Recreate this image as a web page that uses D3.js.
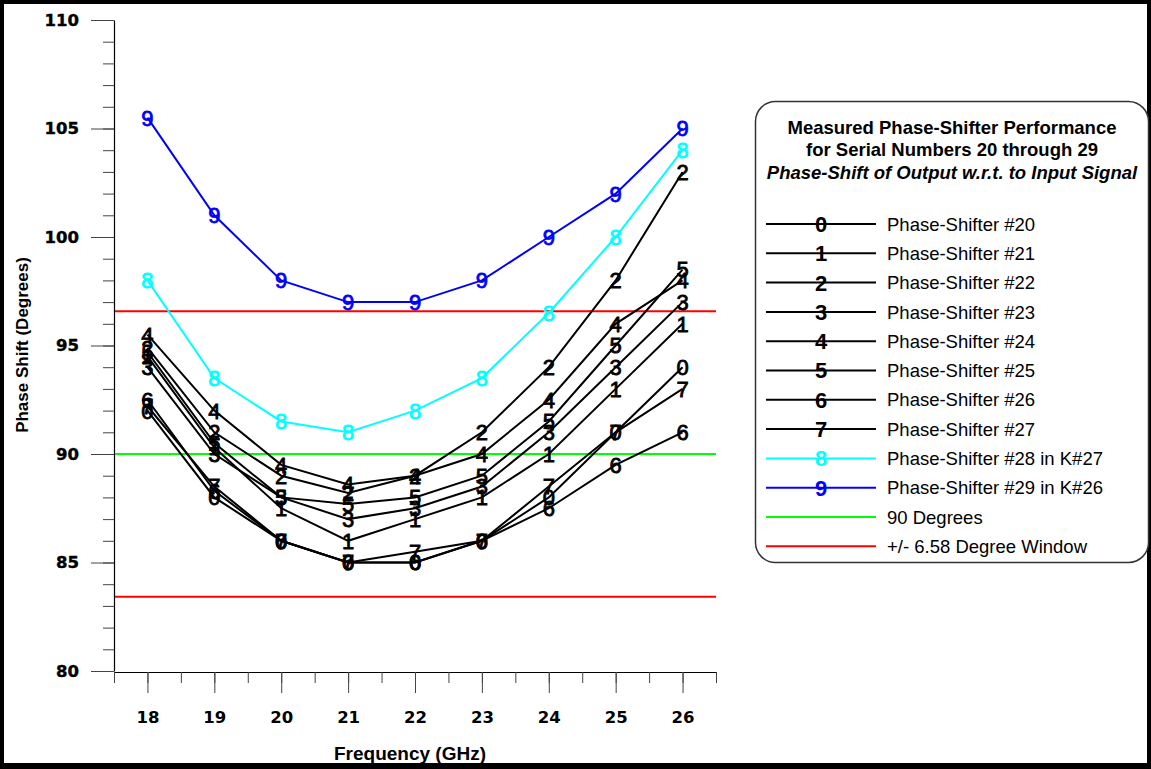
<!DOCTYPE html>
<html>
<head>
<meta charset="utf-8">
<script src="https://cdn.jsdelivr.net/npm/d3@7"></script>
<style>
  body { margin: 0; background: #fff; }
  svg { display: block; }
</style>
</head>
<body>
<svg id="chart" width="1151" height="769"></svg>
<script>
// ---- data ----
const frequencies = [18, 19, 20, 21, 22, 23, 24, 25, 26];
const ps20 = [92.0, 88.0, 86.0, 85.0, 85.0, 86.0, 88.0, 91.0, 94.0];
const ps21 = [94.5, 90.3, 87.5, 86.0, 87.0, 88.0, 90.0, 93.0, 96.0];
const ps22 = [94.9, 91.0, 89.0, 88.2, 89.0, 91.0, 94.0, 98.0, 103.0];
const ps23 = [94.0, 90.0, 88.0, 87.0, 87.5, 88.5, 91.0, 94.0, 97.0];
const ps24 = [95.5, 92.0, 89.5, 88.6, 89.0, 90.0, 92.5, 96.0, 98.0];
const ps25 = [94.7, 90.5, 88.0, 87.7, 88.0, 89.0, 91.5, 95.0, 98.5];
const ps26 = [92.5, 88.3, 86.0, 85.0, 85.0, 86.0, 87.5, 89.5, 91.0];
const ps27 = [92.2, 88.5, 86.0, 85.0, 85.5, 86.0, 88.5, 91.0, 93.0];
const ps28 = [98.0, 93.5, 91.5, 91.0, 92.0, 93.5, 96.5, 100.0, 104.0];
const ps29 = [105.5, 101.0, 98.0, 97.0, 97.0, 98.0, 100.0, 102.0, 105.0];
const seriesMarkers = ["0", "1", "2", "3", "4", "5", "6", "7", "8", "9"];
const seriesNames = ["Phase-Shifter #20", "Phase-Shifter #21", "Phase-Shifter #22", "Phase-Shifter #23",
  "Phase-Shifter #24", "Phase-Shifter #25", "Phase-Shifter #26", "Phase-Shifter #27",
  "Phase-Shifter #28 in K#27", "Phase-Shifter #29 in K#26"];
const seriesColors = ["#000", "#000", "#000", "#000", "#000", "#000", "#000", "#000", "#00ffff", "#0000ff"];
const referenceValues = [90, 96.58, 83.42];
const referenceColors = ["#00ff00", "#ff0000", "#ff0000"];
const referenceNames = ["90 Degrees", "+/- 6.58 Degree Window"];
const yMajorTicks = [80, 85, 90, 95, 100, 105, 110];
const titleLines = ["Measured Phase-Shifter Performance", "for Serial Numbers 20 through 29",
  "Phase-Shift of Output w.r.t. to Input Signal"];
const xTitle = "Frequency (GHz)";
const yTitle = "Phase Shift (Degrees)";

const allSeries = [ps20, ps21, ps22, ps23, ps24, ps25, ps26, ps27, ps28, ps29];

// ---- drawing ----
const svg = d3.select("#chart");
svg.append("rect").attr("x", 0).attr("y", 0).attr("width", 1151).attr("height", 769).attr("fill", "#000");
svg.append("rect").attr("x", 4).attr("y", 4).attr("width", 1143).attr("height", 759).attr("fill", "#fff");

const x = d3.scaleLinear().domain([17.5, 26.5]).range([114, 716]);
const y = d3.scaleLinear().domain([80, 110]).range([671, 20]);

const tickFont = "'DejaVu Sans', sans-serif";

// y axis minor
const yMinor = d3.range(80, 111, 1);
svg.append("g").attr("transform", "translate(114,0)")
  .call(d3.axisLeft(y).tickValues(yMinor).tickSize(11).tickSizeOuter(0).tickFormat(""))
  .call(g => g.selectAll(".tick line").attr("stroke", "#444"))
  .call(g => g.select(".domain").attr("stroke", "#000").attr("stroke-width", 1.2));
svg.append("g").attr("transform", "translate(114,0)")
  .call(d3.axisLeft(y).tickValues(yMajorTicks).tickSize(23).tickPadding(12).tickSizeOuter(0).tickFormat(d3.format("d")))
  .call(g => g.select(".domain").remove())
  .call(g => g.selectAll(".tick line").attr("stroke", "#444"))
  .call(g => g.selectAll(".tick text").attr("font-family", tickFont).attr("font-weight", "bold")
    .attr("font-size", 16.5).attr("fill", "#000").attr("stroke", "#000").attr("stroke-width", 0.4));

// x axis
const xMinor = d3.range(17.5, 26.51, 0.5);
svg.append("g").attr("transform", "translate(0,672)")
  .call(d3.axisBottom(x).tickValues(xMinor).tickSize(11).tickSizeOuter(0).tickFormat(""))
  .call(g => g.selectAll(".tick line").attr("stroke", "#444"))
  .call(g => g.select(".domain").attr("stroke", "#000").attr("stroke-width", 1.2));
svg.append("g").attr("transform", "translate(0,672)")
  .call(d3.axisBottom(x).tickValues(frequencies).tickSize(21).tickSizeOuter(0).tickFormat(d3.format("d")))
  .call(g => g.select(".domain").remove())
  .call(g => g.selectAll(".tick line").attr("stroke", "#444"))
  .call(g => g.selectAll(".tick text").attr("font-family", tickFont).attr("font-weight", "bold")
    .attr("font-size", 16.5).attr("fill", "#000").attr("y", 45).attr("dy", "0.36em"));

// axis titles
svg.append("text").attr("x", 410).attr("y", 753).attr("dy", "0.36em").attr("text-anchor", "middle")
  .attr("font-family", "'Liberation Sans', Arial, sans-serif").attr("font-weight", "bold").attr("font-size", 19)
  .text(xTitle);
svg.append("text").attr("transform", "translate(22,345) rotate(-90)").attr("dy", "0.36em").attr("text-anchor", "middle")
  .attr("font-family", "'Liberation Sans', Arial, sans-serif").attr("font-weight", "bold").attr("font-size", 17)
  .text(yTitle);

// reference lines
referenceValues.forEach((v, i) => {
  svg.append("line").attr("x1", 115).attr("x2", 716).attr("y1", y(v)).attr("y2", y(v))
    .attr("stroke", referenceColors[i]).attr("stroke-width", 2);
});

// series
const line = d3.line().x((d, i) => x(frequencies[i])).y(d => y(d));
const markerFont = "'Liberation Sans', Arial, sans-serif";
allSeries.forEach((vals, s) => {
  const g = svg.append("g");
  g.append("path").datum(vals).attr("d", line).attr("fill", "none")
    .attr("stroke", seriesColors[s]).attr("stroke-width", 2);
  g.selectAll("text").data(vals).join("text")
    .attr("x", (d, i) => x(frequencies[i])).attr("y", d => y(d)).attr("dy", "0.36em")
    .attr("text-anchor", "middle").attr("font-family", markerFont).attr("font-size", 22)
    .attr("fill", seriesColors[s]).attr("stroke", seriesColors[s]).attr("stroke-width", 0.8)
    .text(seriesMarkers[s]);
});

// legend
svg.append("rect").attr("x", 755.5).attr("y", 101.5).attr("width", 393).attr("height", 461).attr("rx", 20)
  .attr("fill", "#fff").attr("stroke", "#333").attr("stroke-width", 1.5);
const legendFont = "'Liberation Sans', Arial, sans-serif";
titleLines.forEach((t, i) => {
  svg.append("text").attr("x", 952).attr("y", 127 + i * 22.5).attr("dy", "0.36em").attr("text-anchor", "middle")
    .attr("font-family", legendFont).attr("font-weight", "bold").attr("font-size", 18.5)
    .attr("font-style", i === 2 ? "italic" : "normal").text(t);
});
const legendRows = seriesNames.map((n, i) => ({ name: n, color: seriesColors[i], marker: seriesMarkers[i] }))
  .concat(referenceNames.map((n, i) => ({ name: n, color: referenceColors[i], marker: "" })));
legendRows.forEach((r, i) => {
  const ry = 224 + i * 29.3;
  svg.append("line").attr("x1", 766).attr("x2", 876).attr("y1", ry).attr("y2", ry)
    .attr("stroke", r.color).attr("stroke-width", 2);
  if (r.marker) {
    svg.append("text").attr("x", 821).attr("y", ry).attr("dy", "0.36em").attr("text-anchor", "middle")
      .attr("font-family", markerFont).attr("font-size", 22).attr("font-weight", "bold")
      .attr("fill", r.color).text(r.marker);
  }
  svg.append("text").attr("x", 887).attr("y", ry).attr("dy", "0.36em")
    .attr("font-family", legendFont).attr("font-size", 18.5).attr("fill", "#000").text(r.name);
});
</script>
</body>
</html>
